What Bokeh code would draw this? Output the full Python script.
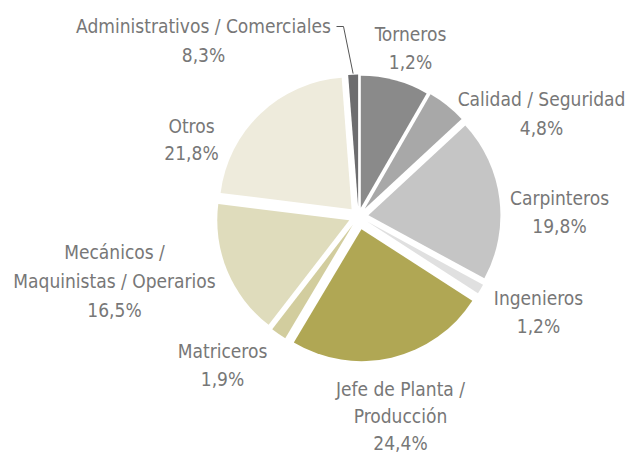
import math
from bokeh.plotting import figure
from bokeh.models import Range1d, ColumnDataSource
from bokeh.core.properties import value
from bokeh.embed import file_html
from bokeh.resources import INLINE

# ---------------- data ----------------
categories = ["Torneros", "Calidad / Seguridad", "Carpinteros", "Ingenieros",
              "Jefe de Planta / Producción", "Matriceros",
              "Mecánicos / Maquinistas / Operarios", "Otros",
              "Administrativos / Comerciales"]
shares = [8.3, 4.8, 19.8, 1.2, 24.4, 1.9, 16.5, 21.8, 1.2]
label_lines = [["Torneros", "1,2%"],
               ["Calidad / Seguridad", "4,8%"],
               ["Carpinteros", "19,8%"],
               ["Ingenieros", "1,2%"],
               ["Jefe de Planta /", "Producción", "24,4%"],
               ["Matriceros", "1,9%"],
               ["Mecánicos /", "Maquinistas / Operarios", "16,5%"],
               ["Otros", "21,8%"],
               ["Administrativos / Comerciales", "8,3%"]]

# ---------------- style / layout ----------------
colors = ["#8a8a8a", "#a8a8a8", "#c5c5c5", "#e0e0e0", "#b0a754",
          "#d2cd9e", "#dfdcbc", "#eeebdc", "#6d6d6f"]
explode = [9, 10, 10, 10, 13, 10, 10, 10, 10]
W, H = 629, 452
CX, CY = 358, 216          # pie centre (screen px)
R = 132
label_pos = [(410, 33), (541, 98), (559, 197), (538, 297), (400, 388),
             (222, 350), (114, 251), (191, 125), (203, 25)]
line_gap = [28, 29, 28, 28, 27, 28, 29, 27, 29]
text_color = "#777777"
font = "DejaVu Sans Condensed"
fsize = "19px"

def sy(y):  # screen y -> data y
    return H - y

p = figure(width=W, height=H, output_backend="svg", toolbar_location=None,
           x_range=Range1d(0, W), y_range=Range1d(0, H),
           min_border=0)
p.axis.visible = False
p.grid.visible = False
p.outline_line_color = None
p.background_fill_color = "white"
p.border_fill_color = "white"

total = sum(shares)
xs, ys, starts, ends = [], [], [], []
cum = 0.0
mids = []
for s, e in zip(shares, explode):
    t1 = cum / total * 2 * math.pi
    cum += s
    t2 = cum / total * 2 * math.pi
    tm = (t1 + t2) / 2
    mids.append(tm)
    dx = e * math.sin(tm)
    dy = e * math.cos(tm)       # upward in data
    xs.append(CX + dx)
    ys.append(sy(CY) + dy)
    starts.append(math.pi / 2 - t2)
    ends.append(math.pi / 2 - t1)

src = ColumnDataSource(dict(x=xs, y=ys, start=starts, end=ends, color=colors,
                            cat=categories, share=shares))
p.wedge(x="x", y="y", radius=R, start_angle="start", end_angle="end",
        fill_color="color", line_color=None, source=src)

# labels
tx, ty, tt = [], [], []
for (lx, ly), lines, g in zip(label_pos, label_lines, line_gap):
    for i, line in enumerate(lines):
        tx.append(lx)
        ty.append(sy(ly + i * g))
        tt.append(line)
p.text(x=tx, y=ty, text=tt, text_align="center", text_baseline="middle",
       text_color=text_color, text_font=value(font), text_font_size=fsize)

# leader line for the last slice
i = len(shares) - 1
ex = xs[i] + (R + 1) * math.sin(mids[i])
ey = ys[i] + (R + 1) * math.cos(mids[i])
p.line(x=[336, 343, ex], y=[sy(26), sy(26), ey], line_color="#555555", line_width=1)

open("out.html", "w").write(file_html(p, INLINE))
